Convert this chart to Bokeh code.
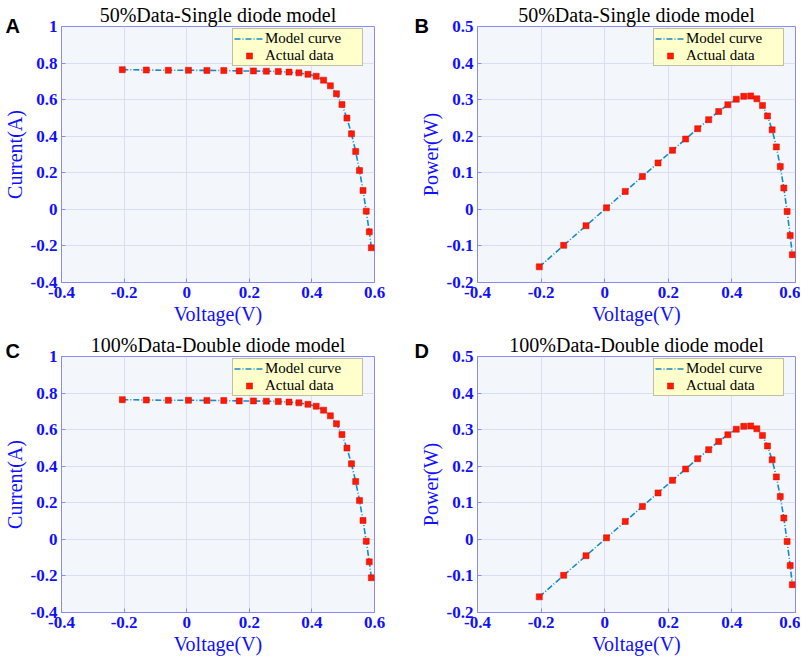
from bokeh.plotting import figure
from bokeh.models import Range1d, FixedTicker, Legend, LegendItem, Label
from bokeh.layouts import column, row
from bokeh.embed import file_html
from bokeh.resources import INLINE

voltage = [-0.2057, -0.1291, -0.0588, 0.0057, 0.0646, 0.1185, 0.1678, 0.2132,
           0.2545, 0.2924, 0.3269, 0.3585, 0.3873, 0.4137, 0.4373, 0.4590,
           0.4784, 0.4960, 0.5119, 0.5265, 0.5398, 0.5521, 0.5633, 0.5736,
           0.5833, 0.5900]
current = [0.7640, 0.7620, 0.7605, 0.7605, 0.7600, 0.7590, 0.7570, 0.7570,
           0.7555, 0.7540, 0.7505, 0.7465, 0.7385, 0.7280, 0.7065, 0.6755,
           0.6320, 0.5730, 0.4990, 0.4130, 0.3165, 0.2120, 0.1035, -0.0100,
           -0.1230, -0.2100]
power = [-0.1572, -0.0984, -0.0447, 0.0043, 0.0491, 0.0899, 0.1270, 0.1614,
         0.1923, 0.2205, 0.2453, 0.2676, 0.2860, 0.3012, 0.3090, 0.3101,
         0.3023, 0.2842, 0.2554, 0.2174, 0.1708, 0.1170, 0.0583, -0.0057,
         -0.0717, -0.1239]
model_current = [0.7640, 0.7620, 0.7605, 0.7605, 0.7600, 0.7590, 0.7570, 0.7570,
                 0.7555, 0.7540, 0.7505, 0.7465, 0.7385, 0.7280, 0.7065, 0.6755,
                 0.6320, 0.5730, 0.4990, 0.4130, 0.3165, 0.2120, 0.1035, -0.0100,
                 -0.1230, -0.2100]
model_power = [-0.1572, -0.0984, -0.0447, 0.0043, 0.0491, 0.0899, 0.1270, 0.1614,
               0.1923, 0.2205, 0.2453, 0.2676, 0.2860, 0.3012, 0.3090, 0.3101,
               0.3023, 0.2842, 0.2554, 0.2174, 0.1708, 0.1170, 0.0583, -0.0057,
               -0.0717, -0.1239]

x_ticks = [-0.4, -0.2, 0, 0.2, 0.4, 0.6]
x_tick_labels = ["-0.4", "-0.2", "0", "0.2", "0.4", "0.6"]
iv_ticks = [-0.4, -0.2, 0, 0.2, 0.4, 0.6, 0.8, 1]
iv_tick_labels = ["-0.4", "-0.2", "0", "0.2", "0.4", "0.6", "0.8", "1"]
pv_ticks = [-0.2, -0.1, 0, 0.1, 0.2, 0.3, 0.4, 0.5]
pv_tick_labels = ["-0.2", "-0.1", "0", "0.1", "0.2", "0.3", "0.4", "0.5"]

titles = ["50%Data-Single diode model", "50%Data-Single diode model",
          "100%Data-Double diode model", "100%Data-Double diode model"]
letters = ["A", "B", "C", "D"]
legend_labels = ["Model curve", "Actual data"]

SERIF = "Liberation Serif"
BLUE_TXT = "#1010FF"
AX_COL = "#8A8AF5"


def make_panel(title, yd, ym, yr, yt, ytl, ylabel, fw, fh, bl, br, bt, bb):
    p = figure(frame_width=fw, frame_height=fh,
               min_border_left=bl, min_border_right=br,
               min_border_top=bt, min_border_bottom=bb,
               x_range=Range1d(-0.4, 0.6), y_range=Range1d(*yr),
               output_backend="svg", toolbar_location=None,
               border_fill_color="white", background_fill_color="#F3F7FC")
    p.outline_line_color = AX_COL
    p.outline_line_width = 1
    p.grid.grid_line_color = "#D9DEF7"
    p.xaxis.ticker = FixedTicker(ticks=x_ticks)
    p.xaxis.major_label_overrides = dict(zip(x_ticks, x_tick_labels))
    p.yaxis.ticker = FixedTicker(ticks=yt)
    p.yaxis.major_label_overrides = dict(zip(yt, ytl))
    p.xaxis.axis_label = "Voltage(V)"
    p.yaxis.axis_label = ylabel
    for ax in (p.xaxis, p.yaxis):
        ax.axis_line_color = AX_COL
        ax.major_tick_line_color = AX_COL
        ax.major_tick_in = 4
        ax.major_tick_out = 0
        ax.minor_tick_line_color = None
        ax.major_label_text_font = SERIF
        ax.major_label_text_font_size = "17px"
        ax.major_label_text_font_style = "bold"
        ax.major_label_text_line_height = 1.0
        ax.major_label_text_color = BLUE_TXT
        ax.axis_label_text_font = SERIF
        ax.axis_label_text_font_size = "20px"
        ax.axis_label_text_line_height = 1.0
        ax.axis_label_text_font_style = "normal"
        ax.axis_label_text_color = BLUE_TXT
        ax.major_label_standoff = 4
        ax.axis_label_standoff = 2
    p.title.text = title
    p.title.align = "center"
    p.title.text_font = SERIF
    p.title.text_font_style = "normal"
    p.title.text_font_size = "20px"
    p.title.text_line_height = 1.0
    p.title.text_color = "black"
    p.title.standoff = 2

    ln = p.line(voltage, ym, line_color="#168ACB", line_dash="6 2 1 2", line_width=1.6)
    sq = p.scatter(voltage, yd, marker="square", size=6,
                   fill_color="#FF1A00", line_color="#E00000", line_width=0.5)

    lw, lh = 129, 37
    legend = Legend(items=[LegendItem(label=legend_labels[0], renderers=[ln]),
                           LegendItem(label=legend_labels[1], renderers=[sq])],
                    location=(fw - 13 - lw, fh - 3 - lh),
                    background_fill_color="#FFFFCC", background_fill_alpha=1,
                    border_line_color="#808080", border_line_width=1,
                    label_text_font=SERIF, label_text_font_size="15px",
                    label_text_color="black",
                    padding=1, spacing=0, glyph_width=30, glyph_height=15,
                    label_height=15, label_width=96, label_standoff=1, margin=0)
    p.add_layout(legend)
    return p


def add_letter(p, text, side, x, y):
    p.add_layout(Label(text=text, x=x, y=y, x_units="screen", y_units="screen",
                       text_font="Liberation Sans", text_font_style="bold",
                       text_font_size="20px", text_color="black",
                       text_baseline="alphabetic"), side)


FH = 256
pA = make_panel(titles[0], current, model_current, (-0.4, 1.0), iv_ticks,
                iv_tick_labels, "Current(A)", 313, FH, 56, 28, 22, 46)
pB = make_panel(titles[1], power, model_power, (-0.2, 0.5), pv_ticks,
                pv_tick_labels, "Power(W)", 318, FH, 73, 5, 22, 46)
pC = make_panel(titles[2], current, model_current, (-0.4, 1.0), iv_ticks,
                iv_tick_labels, "Current(A)", 313, FH, 56, 28, 28, 46)
pD = make_panel(titles[3], power, model_power, (-0.2, 0.5), pv_ticks,
                pv_tick_labels, "Power(W)", 318, FH, 73, 5, 28, 46)

add_letter(pA, letters[0], "right", -313 - 56, FH + 1)
add_letter(pB, letters[1], "left", 12, FH + 1)
add_letter(pC, letters[2], "right", -313 - 56, FH + 6)
add_letter(pD, letters[3], "left", 12, FH + 6)

layout = column(row(pA, pB), row(pC, pD))
open("out.html", "w").write(file_html(layout, INLINE))
